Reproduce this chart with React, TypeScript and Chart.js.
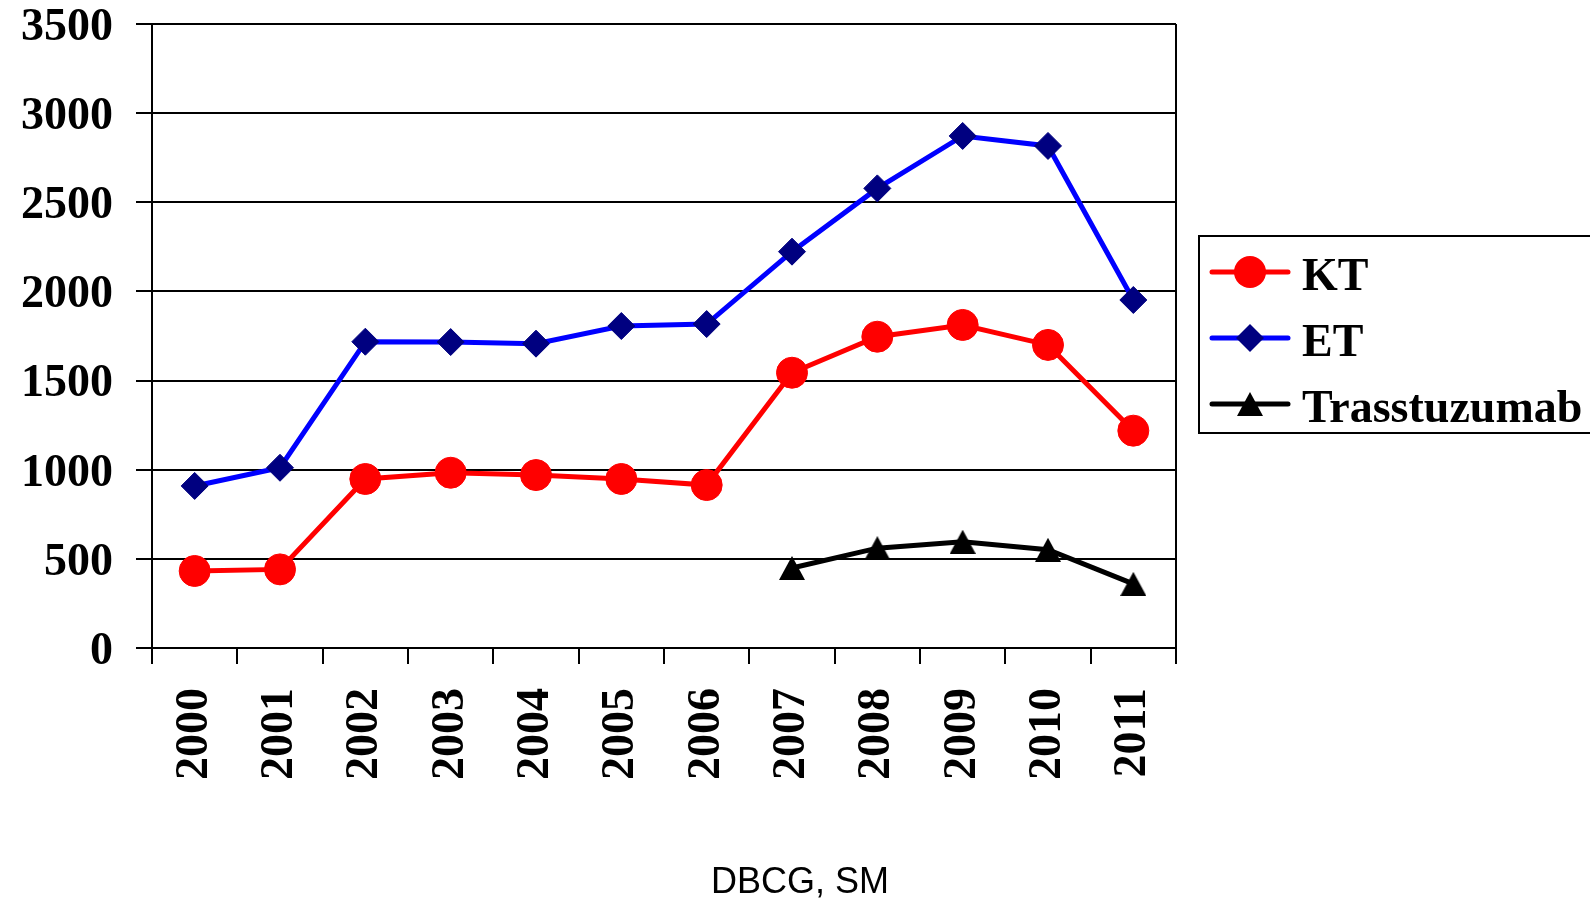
import React, { useEffect, useRef } from 'react';
import { Chart, registerables } from 'chart.js';

Chart.register(...registerables);

const years = ['2000', '2001', '2002', '2003', '2004', '2005', '2006', '2007', '2008', '2009', '2010', '2011'];
const ktValues = [432, 441, 948, 983, 970, 948, 914, 1544, 1746, 1812, 1700, 1219];
const etValues = [909, 1011, 1718, 1716, 1707, 1806, 1817, 2223, 2578, 2872, 2816, 1952];
const trasValues = [null, null, null, null, null, null, null, 449, 560, 596, 551, 360];
const seriesNames = ['KT', 'ET', 'Trasstuzumab'];
const yMin = 0;
const yMax = 3500;
const yStep = 500;
const xTitle = 'DBCG, SM';

const SERIF = '"Liberation Serif", "Times New Roman", serif';
const SANS = '"Liberation Sans", Arial, sans-serif';

const RED = '#FF0000';
const BLUE = '#0000FF';
const NAVY = '#000080';
const BLACK = '#000000';

export default function App() {
  const ref = useRef<HTMLCanvasElement>(null);

  useEffect(() => {
    document.body.style.margin = '0';
    document.body.style.overflow = 'hidden';
    const canvas = ref.current;
    if (!canvas) return;

    const tri = document.createElement('canvas');
    tri.width = 26;
    tri.height = 24;
    const tctx = tri.getContext('2d')!;
    tctx.fillStyle = BLACK;
    tctx.beginPath();
    tctx.moveTo(13, 0);
    tctx.lineTo(26, 24);
    tctx.lineTo(0, 24);
    tctx.closePath();
    tctx.fill();

    const decor = {
      id: 'decor',
      afterDraw(chart: any) {
        const ctx = chart.ctx as CanvasRenderingContext2D;
        const a = chart.chartArea;
        ctx.save();
        // right plot border
        ctx.strokeStyle = BLACK;
        ctx.lineWidth = 2;
        ctx.beginPath();
        ctx.moveTo(a.right, a.top);
        ctx.lineTo(a.right, a.bottom);
        ctx.stroke();

        // legend box
        ctx.strokeRect(1199, 236, 420, 197);
        const rowsY = [272, 338, 404];
        const baseY = [290, 356, 422];
        const colors = [RED, BLUE, BLACK];
        for (let i = 0; i < 3; i++) {
          const y = rowsY[i];
          ctx.strokeStyle = colors[i];
          ctx.lineWidth = 5;
          ctx.lineCap = 'round';
          ctx.beginPath();
          ctx.moveTo(1212, y);
          ctx.lineTo(1288, y);
          ctx.stroke();
          if (i === 0) {
            ctx.fillStyle = RED;
            ctx.beginPath();
            ctx.arc(1250, y, 16, 0, Math.PI * 2);
            ctx.fill();
          } else if (i === 1) {
            ctx.fillStyle = NAVY;
            ctx.beginPath();
            ctx.moveTo(1236, y);
            ctx.lineTo(1250, y - 14);
            ctx.lineTo(1264, y);
            ctx.lineTo(1250, y + 14);
            ctx.closePath();
            ctx.fill();
          } else {
            ctx.drawImage(tri, 1250 - 13, y - 12);
          }
          ctx.fillStyle = BLACK;
          ctx.font = 'bold 46px ' + SERIF;
          ctx.textAlign = 'left';
          ctx.textBaseline = 'alphabetic';
          ctx.fillText(seriesNames[i], 1302, baseY[i]);
        }

        // x title
        ctx.fillStyle = BLACK;
        ctx.font = '36px ' + SANS;
        ctx.textAlign = 'center';
        ctx.textBaseline = 'alphabetic';
        ctx.fillText(xTitle, 800, 893);
        ctx.restore();
      },
    };

    const xTickFont = { family: SERIF, size: 46, weight: 'bold' as const, lineHeight: 1 };
    const yTickFont = { family: SERIF, size: 46, weight: 'bold' as const, lineHeight: '8px' };

    const chart = new Chart(canvas, {
      type: 'line',
      data: {
        labels: years,
        datasets: [
          {
            label: seriesNames[0],
            data: ktValues,
            borderColor: RED,
            backgroundColor: RED,
            borderWidth: 5,
            pointStyle: 'circle',
            pointRadius: 15.5,
            pointBackgroundColor: RED,
            pointBorderColor: RED,
            pointBorderWidth: 1,
            tension: 0,
            clip: false as any,
          },
          {
            label: seriesNames[1],
            data: etValues,
            borderColor: BLUE,
            backgroundColor: NAVY,
            borderWidth: 5,
            pointStyle: 'rectRot',
            pointRadius: 13.5,
            pointBackgroundColor: NAVY,
            pointBorderColor: NAVY,
            pointBorderWidth: 1,
            tension: 0,
            clip: false as any,
          },
          {
            label: seriesNames[2],
            data: trasValues,
            borderColor: BLACK,
            backgroundColor: BLACK,
            borderWidth: 5,
            pointStyle: tri as any,
            pointRadius: 13,
            tension: 0,
            clip: false as any,
          },
        ],
      },
      options: {
        responsive: false,
        animation: false,
        devicePixelRatio: 1,
        layout: { padding: { top: 24, right: 414, left: 0, bottom: 0 } },
        plugins: {
          legend: { display: false },
          tooltip: { enabled: false },
        },
        scales: {
          x: {
            offset: true,
            grid: {
              display: true,
              offset: true,
              drawOnChartArea: false,
              drawTicks: true,
              tickLength: 16,
              color: BLACK,
              lineWidth: 2,
            },
            border: { display: true, color: BLACK, width: 2 },
            ticks: {
              font: xTickFont,
              color: BLACK,
              autoSkip: false,
              maxRotation: 90,
              minRotation: 90,
              padding: 24,
            },
            afterFit: (s: any) => {
              s.height = 253;
              s.paddingLeft = 0;
              s.paddingRight = 0;
            },
          },
          y: {
            min: yMin,
            max: yMax,
            grid: {
              color: BLACK,
              lineWidth: 2,
              tickLength: 16,
              drawTicks: true,
            },
            border: { display: true, color: BLACK, width: 2 },
            ticks: {
              stepSize: yStep,
              font: yTickFont as any,
              color: BLACK,
              padding: 23,
              callback: (v: any) => ['', String(v)],
            },
            afterFit: (s: any) => {
              s.width = 152;
              s.paddingTop = 0;
              s.paddingBottom = 0;
            },
          },
        },
      },
      plugins: [decor],
    });

    return () => chart.destroy();
  }, []);

  return (
    <canvas
      ref={ref}
      width={1590}
      height={901}
      style={{ display: 'block', width: '1590px', height: '901px' }}
    />
  );
}
